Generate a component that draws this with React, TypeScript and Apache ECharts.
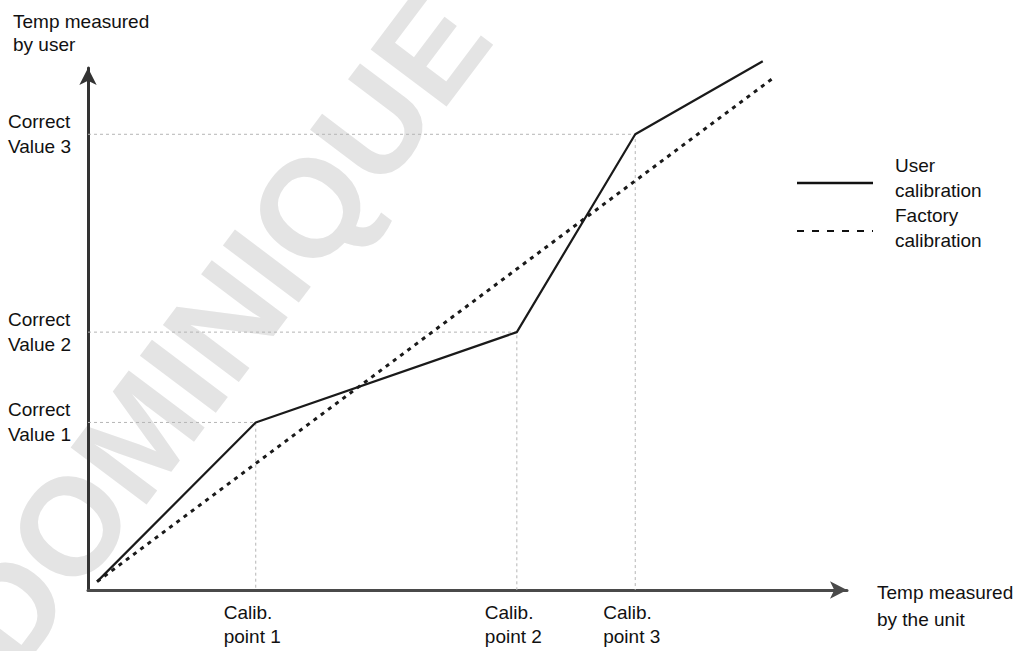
import React, { useEffect, useRef } from "react";
import * as echarts from "echarts";

// Data (axis units 0–100 on both axes)
const calibX = [22.1, 56.5, 72.1];
const correctY = [32.1, 49.4, 87.3];
const calibLabels = ["Calib.\npoint 1", "Calib.\npoint 2", "Calib.\npoint 3"];
const correctLabels = ["Correct\nValue 1", "Correct\nValue 2", "Correct\nValue 3"];
const userStart = [1.2, 1.6];
const userEnd = [88.9, 101.3];
const factoryLine = [
  [1.2, 1.6],
  [90.3, 98.1],
];
const seriesNames = ["User\ncalibration", "Factory\ncalibration"];

const FONT = "'Liberation Sans', Arial, sans-serif";

export default function App() {
  const ref = useRef<HTMLDivElement>(null);

  useEffect(() => {
    if (!ref.current) return;
    const chart = echarts.init(ref.current, undefined, { renderer: "svg" });

    const userData = [userStart, ...calibX.map((x, i) => [x, correctY[i]]), userEnd];
    const guideSeries = calibX.map((x, i) => ({
      type: "line",
      silent: true,
      symbol: "none",
      z: 1,
      data: [
        [0, correctY[i]],
        [x, correctY[i]],
        [x, 0],
      ],
      lineStyle: { color: "#b5b5b5", width: 1, type: [3, 3] },
    }));

    chart.setOption({
      animation: false,
      backgroundColor: "#ffffff",
      grid: { left: 88, right: 178, top: 68, bottom: 61, containLabel: false },
      xAxis: {
        type: "value",
        min: 0,
        max: 100,
        splitLine: { show: false },
        axisTick: { show: false },
        axisLine: {
          show: true,
          lineStyle: { color: "#4a4a4a", width: 3 },
          symbol: ["none", "arrow"],
          symbolSize: [13, 17],
        },
        axisLabel: {
          show: true,
          customValues: calibX,
          margin: 10,
          formatter: (v: number) => {
            const i = calibX.indexOf(v);
            const parts = (calibLabels[i] || "").split("\n");
            return parts.map((p) => "{a|" + p + "}").join("\n");
          },
          rich: {
            a: {
              width: 64,
              align: "left",
              fontSize: 19,
              lineHeight: 24,
              color: "#111",
              fontFamily: FONT,
            },
          },
        },
      },
      yAxis: {
        type: "value",
        min: 0,
        max: 100,
        splitLine: { show: false },
        axisTick: { show: false },
        axisLine: {
          show: true,
          lineStyle: { color: "#333333", width: 3 },
          symbol: ["none", "arrow"],
          symbolSize: [13, 17],
        },
        axisLabel: {
          show: true,
          customValues: correctY,
          align: "left",
          verticalAlign: "middle",
          margin: 80,
          fontSize: 19,
          lineHeight: 25,
          color: "#111",
          fontFamily: FONT,
          formatter: (v: number) => correctLabels[correctY.indexOf(v)] || "",
        },
      },
      graphic: [
        {
          type: "text",
          z: -10,
          silent: true,
          x: 218,
          y: 330,
          rotation: (53 * Math.PI) / 180,
          style: {
            text: "DOMINIQUE",
            fill: "#e4e4e4",
            font: "bold 138px " + FONT,
            align: "center",
            verticalAlign: "middle",
          },
        },
        {
          type: "text",
          left: 13,
          top: 10,
          style: {
            text: "Temp measured\nby user",
            fill: "#111",
            font: "19px " + FONT,
            lineHeight: 23,
          },
        },
        {
          type: "text",
          left: 877,
          top: 579,
          style: {
            text: "Temp measured\nby the unit",
            fill: "#111",
            font: "19px " + FONT,
            lineHeight: 27,
          },
        },
        {
          type: "line",
          shape: { x1: 797, y1: 183, x2: 873, y2: 183 },
          style: { stroke: "#111", lineWidth: 2.5 },
        },
        {
          type: "text",
          left: 895,
          top: 153,
          style: {
            text: seriesNames[0],
            fill: "#111",
            font: "19px " + FONT,
            lineHeight: 25,
          },
        },
        {
          type: "line",
          shape: { x1: 797, y1: 231, x2: 873, y2: 231 },
          style: { stroke: "#111", lineWidth: 2, lineDash: [7, 8] },
        },
        {
          type: "text",
          left: 895,
          top: 203,
          style: {
            text: seriesNames[1],
            fill: "#111",
            font: "19px " + FONT,
            lineHeight: 25,
          },
        },
      ],
      series: [
        ...guideSeries,
        {
          name: "User calibration",
          type: "line",
          clip: false,
          symbol: "none",
          z: 3,
          data: userData,
          lineStyle: { color: "#1a1a1a", width: 2.2 },
        },
        {
          name: "Factory calibration",
          type: "line",
          clip: false,
          symbol: "none",
          z: 3,
          data: factoryLine,
          lineStyle: { color: "#1a1a1a", width: 3, type: [4, 5] },
        },
      ],
    });

    return () => chart.dispose();
  }, []);

  return (
    <div
      ref={ref}
      style={{ position: "fixed", left: 0, top: 0, width: 1025, height: 651 }}
    />
  );
}
